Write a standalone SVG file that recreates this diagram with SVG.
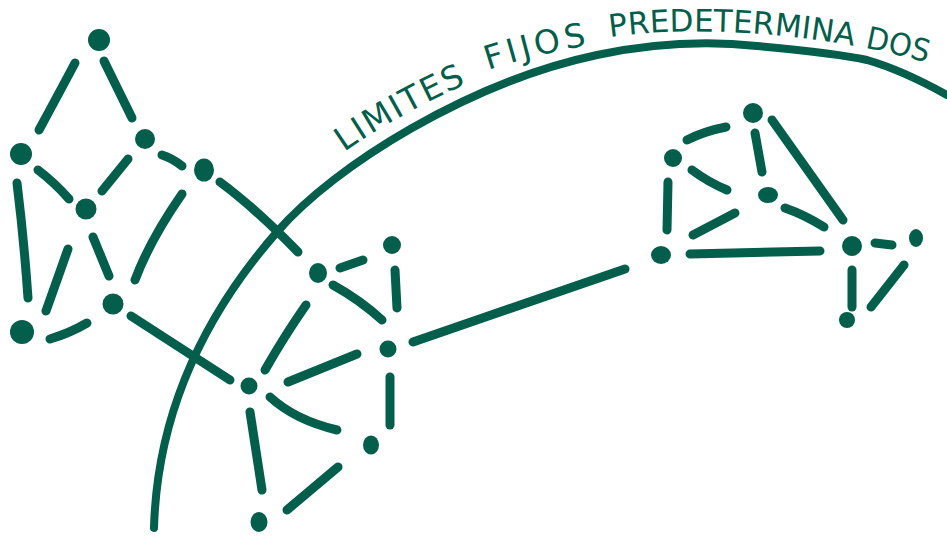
<svg xmlns="http://www.w3.org/2000/svg" width="947" height="540" viewBox="0 0 947 540">
<style>
.dash{fill:none;stroke:#035e4b;stroke-width:9;stroke-linecap:round;stroke-linejoin:round}
.arc{fill:none;stroke:#035e4b;stroke-width:8;stroke-linecap:round}
.nd{fill:#035e4b}
.lbl{font-family:"DejaVu Sans","Liberation Sans",sans-serif;font-size:33px;fill:#035e4b}
.lbl2{font-family:"DejaVu Sans","Liberation Sans",sans-serif;font-size:31px;fill:#035e4b}
</style>
<defs>
<path id="w1" d="M344,152 Q405,110 476,80"/>
<path id="w2" d="M488,70 Q540,53 596,44"/>
<path id="w3" d="M610,37 C680,27 800,28 925,62"/>
</defs>
<rect width="947" height="540" fill="#ffffff"/>
<g id="boundary">
<path class="arc" d="M154,528 C157,420 200,320 277,232 C335,165 470,82 597,55 C645,45 700,40 757,46 C800,50 840,54 867,60 C895,68 920,80 947,95"/>
<text class="lbl"><textPath href="#w1" textLength="140" lengthAdjust="spacing">LIMITES</textPath></text>
<text class="lbl"><textPath href="#w2" textLength="102" lengthAdjust="spacing">FIJOS</textPath></text>
<text class="lbl2"><textPath href="#w3" textLength="245" lengthAdjust="spacing">PREDETERMINA</textPath></text>
<text class="lbl2"><textPath href="#w3" startOffset="256" textLength="64" lengthAdjust="spacingAndGlyphs">DOS</textPath></text>
</g>
<g id="connectors">
<path class="dash" d="M75,63 Q58,95 39,130"/>
<path class="dash" d="M104,61 L132,118"/>
<path class="dash" d="M38,170 Q55,183 69,199"/>
<path class="dash" d="M128,159 L102,191"/>
<path class="dash" d="M162,155 Q172,158 182,166"/>
<path class="dash" d="M17,183 Q24,240 28,298"/>
<path class="dash" d="M93,237 L109,276"/>
<path class="dash" d="M68,249 L46,311"/>
<path class="dash" d="M182,194 Q150,240 135,280"/>
<path class="dash" d="M50,339 Q70,333 87,323"/>
<path class="dash" d="M220,182 Q255,208 298,252"/>
<path class="dash" d="M131,316 L230,380"/>
<path class="dash" d="M340,268 L363,260"/>
<path class="dash" d="M395,270 L397,308"/>
<path class="dash" d="M333,285 Q360,300 382,320"/>
<path class="dash" d="M306,305 Q285,335 265,370"/>
<path class="dash" d="M288,382 L357,354"/>
<path class="dash" d="M390,377 L390,425"/>
<path class="dash" d="M270,397 Q295,420 337,430"/>
<path class="dash" d="M250,412 L262,490"/>
<path class="dash" d="M287,510 L338,467"/>
<path class="dash" d="M413,342 L625,269"/>
<path class="dash" d="M687,140 Q705,131 726,127"/>
<path class="dash" d="M668,182 L667,230"/>
<path class="dash" d="M692,170 Q708,182 727,190"/>
<path class="dash" d="M755,133 L762,172"/>
<path class="dash" d="M772,120 L843,220"/>
<path class="dash" d="M735,213 L693,235"/>
<path class="dash" d="M785,208 Q805,215 824,227"/>
<path class="dash" d="M690,254 L820,251"/>
<path class="dash" d="M875,243 L892,245"/>
<path class="dash" d="M852,270 L852,307"/>
<path class="dash" d="M904,265 L871,307"/>
</g>
<g id="node-a"><circle class="nd" cx="99" cy="40" r="11"/></g>
<g id="node-b"><circle class="nd" cx="21" cy="154" r="11"/></g>
<g id="node-c"><circle class="nd" cx="145" cy="139" r="10"/></g>
<g id="node-d"><ellipse class="nd" cx="204" cy="170" rx="10" ry="11.5"/></g>
<g id="node-e"><circle class="nd" cx="86" cy="209" r="10.5"/></g>
<g id="node-f"><circle class="nd" cx="113" cy="304" r="10.5"/></g>
<g id="node-g"><circle class="nd" cx="22" cy="332" r="12"/></g>
<g id="node-h"><ellipse class="nd" cx="318" cy="273" rx="9" ry="10"/></g>
<g id="node-i"><circle class="nd" cx="392" cy="245" r="9"/></g>
<g id="node-j"><circle class="nd" cx="388" cy="349" r="8.5"/></g>
<g id="node-k"><circle class="nd" cx="249" cy="386" r="8.5"/></g>
<g id="node-l"><ellipse class="nd" cx="371" cy="445" rx="8" ry="9.5"/></g>
<g id="node-m"><ellipse class="nd" cx="259" cy="522" rx="8.5" ry="10"/></g>
<g id="node-n"><ellipse class="nd" cx="661" cy="255" rx="10" ry="9"/></g>
<g id="node-o"><circle class="nd" cx="673" cy="158" r="9"/></g>
<g id="node-p"><circle class="nd" cx="753" cy="113" r="10"/></g>
<g id="node-q"><ellipse class="nd" cx="768" cy="195" rx="10" ry="8"/></g>
<g id="node-r"><circle class="nd" cx="852" cy="246" r="10"/></g>
<g id="node-s"><ellipse class="nd" cx="916" cy="238" rx="7" ry="9"/></g>
<g id="node-t"><circle class="nd" cx="847" cy="320" r="8"/></g>
</svg>
